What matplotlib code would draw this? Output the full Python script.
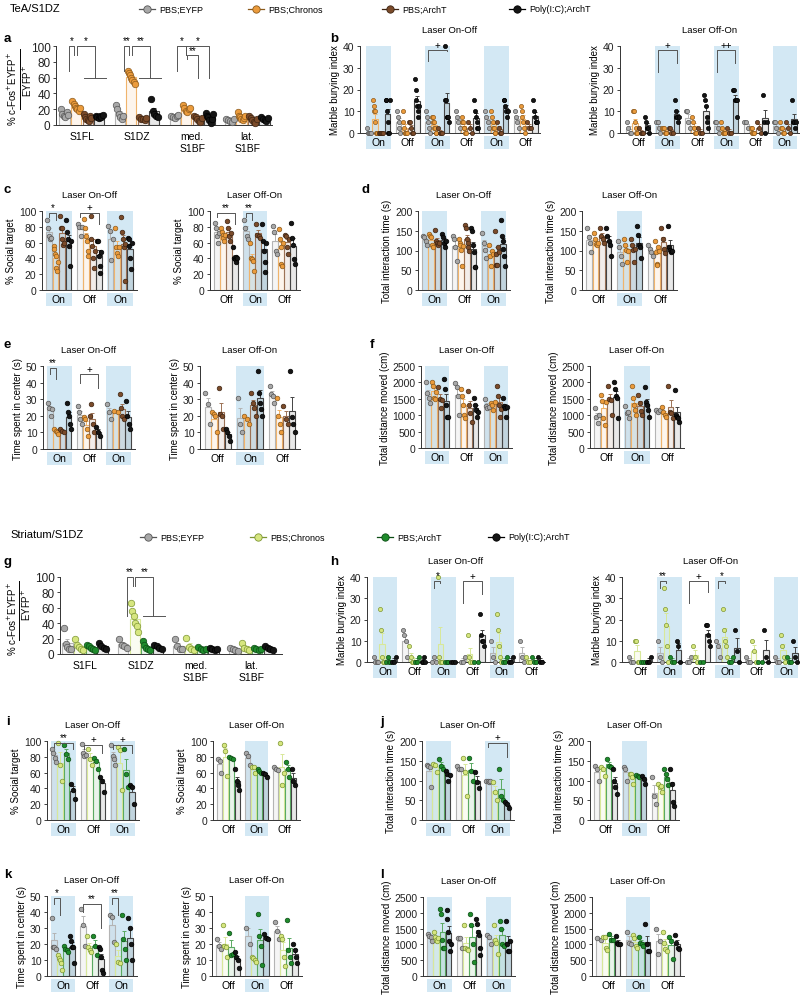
import numpy as np
import matplotlib.pyplot as plt
from matplotlib.patches import Rectangle
from matplotlib.colors import to_rgba

plt.rcParams['font.family'] = ['Liberation Sans', 'DejaVu Sans']

# ---------------- data ----------------
conds = ['PBS;EYFP', 'PBS;Chronos', 'PBS;ArchT', 'Poly(I:C);ArchT']
regions = ['S1FL', 'S1DZ', 'med.\nS1BF', 'lat.\nS1BF']
on_off3 = ['On', 'Off', 'On']
off_on3 = ['Off', 'On', 'Off']
on_off6 = ['On', 'Off', 'On', 'Off', 'On', 'Off']
off_on6 = ['Off', 'On', 'Off', 'On', 'Off', 'On']

# TeA/S1DZ
a_pts = [
    [[20, 14, 12, 10, 16, 13], [31, 27, 24, 22, 20, 18, 21], [14, 10, 8, 6, 5, 12, 9], [12, 10, 9, 11, 10, 13]],
    [[25, 20, 14, 10, 8, 12], [68, 66, 63, 60, 57, 55, 52], [10, 8, 7, 6, 9], [33, 18, 14, 12, 10]],
    [[12, 10, 9, 11, 13], [25, 22, 18, 16, 20, 21], [12, 10, 8, 5, 4, 9], [15, 12, 10, 6, 3, 8, 14]],
    [[8, 6, 5, 4, 7], [16, 12, 10, 8, 6, 9, 11], [12, 9, 6, 4, 3, 7], [10, 8, 6, 5, 9]],
]
b1_pts = [
    [[2.5, 0, 0, 0, 0], [15, 12.5, 10, 10, 5, 0, 0, 0], [0, 0, 0, 0, 0], [15, 15, 10, 5, 0, 0, 15]],
    [[10, 7.5, 5, 2.5, 0], [10, 5, 2.5, 0, 0, 0, 0], [5, 5, 2.5, 0, 0], [25, 20, 15, 12.5, 10, 7.5, 12.5]],
    [[10, 7.5, 5, 2.5, 0], [7.5, 7.5, 5, 5, 2.5, 2.5, 0, 0], [2.5, 0, 0, 0], [40, 15, 15, 7.5, 7.5, 7.5, 5]],
    [[10, 7.5, 5, 2.5], [7.5, 5, 5, 2.5, 2.5, 0, 0], [5, 2.5, 0], [15, 10, 7.5, 5, 2.5, 2.5]],
    [[10, 7.5, 5, 2.5], [10, 7.5, 5, 2.5, 2.5, 0, 0], [5, 2.5, 0, 0], [15, 15, 12.5, 10, 7.5, 10]],
    [[10, 7.5, 5, 2.5], [12.5, 10, 7.5, 5, 2.5, 0], [5, 2.5, 2.5], [15, 10, 7.5, 5, 5, 5]],
]
b2_pts = [
    [[5, 2.5, 0, 0], [10, 10, 5, 2.5, 0, 0], [2.5, 0, 0, 0], [7.5, 5, 2.5, 2.5, 0]],
    [[5, 5, 2.5, 0], [2.5, 2.5, 2.5, 0, 0, 0], [2.5, 2.5, 0, 0], [15, 10, 7.5, 7.5, 5, 7.5]],
    [[10, 10, 5, 2.5], [7.5, 5, 2.5, 0, 0], [2.5, 0, 0], [17.5, 15, 12.5, 7.5, 5, 2.5]],
    [[5, 5, 2.5, 0], [5, 2.5, 0, 0, 0, 0], [2.5, 0, 0], [20, 20, 15, 15, 15, 7.5]],
    [[5, 5, 2.5], [2.5, 2.5, 0, 0, 0], [5, 2.5, 0], [17.5, 5, 0, 5]],
    [[5, 5, 2.5, 0], [5, 2.5, 2.5, 0, 0], [5, 2.5, 0], [15, 5, 5, 2.5, 5]],
]
c1_pts = [
    [[89, 79, 68, 64, 66], [56, 52, 45, 43, 28, 24, 35], [94, 79, 78, 64, 57, 60], [88, 73, 64, 56, 30, 62]],
    [[83, 80, 68, 80], [90, 79, 68, 62, 43, 50], [94, 64, 56, 41, 28, 50], [62, 62, 43, 30, 22, 48]],
    [[81, 75, 38, 65], [79, 55, 47, 43, 55], [92, 73, 64, 54, 12, 58], [66, 64, 56, 41, 26, 60]],
]
c2_pts = [
    [[85, 79, 68, 60, 72], [79, 73, 70, 66, 62, 70], [87, 79, 68, 62, 72], [55, 41, 39, 35, 42, 41]],
    [[89, 79, 68, 64], [60, 41, 39, 37, 24], [83, 70, 68, 66], [83, 62, 50, 35, 23, 60]],
    [[81, 73, 50, 45], [77, 64, 54, 33, 31, 60], [70, 68, 54, 45, 65], [85, 66, 57, 39, 33]],
]
d1_pts = [
    [[137, 133, 125, 113], [141, 137, 133, 113, 109], [152, 125, 120, 113, 118], [141, 133, 120, 109, 125]],
    [[137, 129, 109, 74], [129, 120, 113, 101, 61, 112], [165, 157, 129, 120, 109, 98], [157, 150, 113, 95, 57, 57]],
    [[145, 120, 101, 80], [113, 86, 61, 100, 90], [150, 90, 63, 63, 110, 95], [178, 137, 125, 105, 86, 61]],
]
d2_pts = [
    [[157, 133, 120, 95], [145, 129, 116, 113, 118], [157, 137, 129, 120], [157, 137, 125, 113, 86]],
    [[125, 109, 86, 67], [129, 113, 101, 71, 100], [129, 113, 101, 71, 105], [161, 138, 113, 109, 80]],
    [[113, 105, 95, 85], [125, 95, 67, 63, 110, 100], [157, 129, 105, 93], [163, 109, 101, 95, 100]],
]
e1_pts = [
    [[28, 25, 20, 24], [12, 11, 10, 9], [12, 11, 10], [28, 22, 20, 15, 12]],
    [[26, 22, 18, 15], [19, 18, 12, 8], [20, 27, 15, 10], [13, 10, 8]],
    [[27, 22, 18], [23, 22], [33, 25, 20, 18], [29, 20, 15, 12]],
]
e2_pts = [
    [[34, 27, 15], [22, 21, 20, 10], [37, 21, 20, 12], [12, 10, 8, 5]],
    [[31, 15, 10], [20, 18, 15], [34, 28, 25, 20], [47, 34, 28, 24, 20]],
    [[38, 33, 32, 28], [31, 20, 15, 10], [26, 18, 15], [47, 19, 15, 10]],
]
f1_pts = [
    [[2000, 1690, 1530, 1375], [2000, 1900, 1530, 1500, 1700], [1850, 1500, 1220, 1450], [2100, 1810, 1320, 960, 960]],
    [[1970, 1850, 1600, 1000], [1790, 1580, 1320, 1000, 900], [1740, 1320, 1060, 800], [1530, 1320, 1170, 960, 1100]],
    [[1480, 1270, 1220, 1250], [1375, 1320, 1170, 1400], [1900, 1580, 1320, 960, 1200], [1530, 1270, 1220, 960, 1250]],
]
f2_pts = [
    [[1220, 960, 750, 1000], [1630, 1430, 900, 700, 1400], [1900, 1480, 1450, 1000], [2000, 1790, 1600, 1530, 900]],
    [[1270, 1060, 1100, 900], [1900, 1530, 1320, 1170, 1000], [1630, 1375, 1115, 1000], [1850, 1400, 1320, 1170, 960]],
    [[1150, 1100, 1150], [1250, 1100, 1000, 950], [1900, 1100, 1060, 900], [1780, 1000, 960, 900, 800]],
]

# Striatum/S1DZ
g_pts = [
    [[34, 13, 9, 7, 6], [20, 12, 9, 7, 5], [12, 10, 8, 6, 5], [14, 10, 8, 7]],
    [[20, 12, 10, 8], [66, 56, 49, 40, 36, 28], [17, 12, 8, 6, 5], [12, 11, 8, 7]],
    [[20, 10, 7, 6], [21, 9, 7, 5], [9, 7, 5, 6], [8, 7, 5, 6]],
    [[8, 6, 5, 4], [14, 8, 6, 5], [8, 7, 5, 6], [10, 8, 6, 5]],
]
h1_pts = [
    [[2.5, 0, 0, 0], [25, 15, 2.5, 0, 0], [0, 2.5, 0, 0], [0, 0, 2.5]],
    [[15, 12.5, 10, 2.5], [7.5, 2.5, 0, 0], [0, 0, 2.5], [0, 0, 2.5, 0]],
    [[0, 2.5, 0], [40, 2.5, 0, 0, 0], [0, 0, 0], [0, 0, 0]],
    [[0, 0, 2.5], [12.5, 2.5, 0, 0], [0, 0], [22.5, 12.5, 10, 10, 7.5]],
    [[10, 2.5, 0], [22.5, 15, 7.5, 2.5, 0], [0, 0, 2.5], [0, 0, 2.5]],
    [[10, 2.5, 0], [2.5, 0, 0], [2.5, 0, 0], [2.5, 0, 0]],
]
h2_pts = [
    [[2.5, 0, 0], [10, 10, 0, 0], [0, 0, 0], [0, 0, 2.5]],
    [[10, 2.5, 0], [35, 25, 17.5, 7.5, 0], [2.5, 0, 0], [10, 7.5, 0]],
    [[0, 0, 2.5], [7.5, 2.5, 0], [0, 0], [17.5, 17.5, 12.5, 10, 7.5]],
    [[10, 7.5, 2.5], [25, 15, 10, 7.5, 2.5], [0, 0, 2.5], [15, 5, 0]],
    [[2.5, 0, 0], [10, 5, 0], [0, 0], [15, 2.5, 0]],
    [[2.5, 0, 0], [12.5, 7.5, 2.5, 0], [2.5, 0, 0], [10, 2.5, 0]],
]
i1_pts = [
    [[90, 85, 79, 73], [98, 69, 50], [95, 83, 77], [46, 38, 26]],
    [[96, 85, 81, 82], [90, 77, 69], [79, 75, 65], [54, 50, 35]],
    [[95, 81, 77, 70], [92, 88, 38], [90, 58, 42], [44, 42, 20]],
]
i2_pts = [
    [[77, 75, 60], [95, 87, 56], [80, 79, 77], [65, 50, 44, 38]],
    [[85, 81, 70], [67, 67, 60], [65, 62, 60], [60, 58, 54]],
    [[67, 65, 63], [98, 44, 60], [73, 65, 55], [65, 50, 44]],
]
j1_pts = [
    [[140, 137, 133, 83], [142, 139, 122], [154, 137, 130], [125, 117, 100, 115]],
    [[137, 129, 130], [158, 121, 60], [158, 125, 100], [121, 96, 80]],
    [[100, 98, 95, 100], [96, 71, 50], [129, 60, 50], [45, 40, 30]],
]
j2_pts = [
    [[137, 129, 100], [133, 129, 112], [154, 137, 133], [129, 100, 83, 67]],
    [[133, 129, 100], [117, 117, 110, 90], [114, 112, 110], [112, 104, 92]],
    [[108, 60, 40], [92, 83, 85, 70], [129, 117, 104, 88], [129, 92, 45, 35]],
]
k1_pts = [
    [[36, 18, 18, 17], [13, 11, 10, 8, 4], [19, 17, 16, 15], [25, 22, 18, 18, 8]],
    [[42, 32, 19], [25, 18, 16, 15], [25, 19, 13], [18, 17, 12, 4, 2]],
    [[38, 37, 21], [20, 9, 8], [38, 23, 17, 10], [36, 30, 20, 10]],
]
k2_pts = [
    [[23, 19, 17], [32, 19, 18, 12], [27, 13, 14], [15, 12, 10, 5]],
    [[30, 20], [12, 11, 10, 9], [39, 25, 19, 7], [26, 24, 23]],
    [[34, 28, 23], [25, 23, 12, 6], [35, 16, 12, 8], [20, 16, 12, 8]],
]
l1_pts = [
    [[1330, 1280, 1250, 1100], [1400, 1230, 1130, 1100, 1200], [2120, 1950, 1150, 900, 880], [2100, 1800, 1400, 1100, 780, 1000]],
    [[1200, 1200, 900], [1600, 880, 850, 830], [1960, 1600, 1000, 430], [1800, 1650, 1400, 1300, 900, 650]],
    [[1300, 1220, 1000], [1600, 1150, 1050, 700], [1730, 1500, 1000, 950], [1730, 1000, 800, 800, 1100]],
]
l2_pts = [
    [[1200, 1150], [1250, 1230, 880, 830], [1330, 1150, 1150], [1280, 1050, 1000, 1000]],
    [[1380, 1050, 1000], [1300, 1200, 950, 900], [1250, 1050, 1000, 950], [1650, 1000, 800, 800]],
    [[1500, 700, 1100], [1400, 1050, 850, 800], [1250, 1100, 550], [1300, 1050, 900, 850]],
]

# ---------------- style ----------------
SHADE = '#d3e8f4'
TOP = dict(dot=['#a8a8a8', '#eb9b3c', '#7b4b2a', '#151515'],
           edge=['#555555', '#8c5a1c', '#3d2412', '#000000'],
           bar=['#b4b4b4', '#f0b46c', '#9c7256', '#444444'])
BOT = dict(dot=['#a8a8a8', '#d6e67f', '#1f8b2c', '#151515'],
           edge=['#555555', '#7d9633', '#0c4d14', '#000000'],
           bar=['#b4b4b4', '#d8e89a', '#5aaa62', '#444444'])
BW = 0.21
W, H = 800, 1004

fig = plt.figure(figsize=(8, 10.04), dpi=100)
ov = fig.add_axes([0, 0, 1, 1])
ov.set_xlim(0, W)
ov.set_ylim(H, 0)
ov.axis('off')


def bx(g, k):
    return g + (k - 1.5) * BW


def panel(rect, pts, ylim, yticks, ylabel, cols, labels=None, title=None,
          xlim=None, ms=9, tsize=7.5, brackets=(), shade=True):
    x0, y0, x1, y1 = rect
    ng = len(pts)
    if xlim is None:
        xlim = (-0.55, ng - 0.45) if ng == 3 else (-0.62, ng - 0.52)
    ax = fig.add_axes([x0 / W, 1 - y1 / H, (x1 - x0) / W, (y1 - y0) / H])
    ax.set_facecolor('none')
    ax.set_xlim(*xlim)
    ax.set_ylim(*ylim)
    ax.set_yticks(yticks)
    for s in ['top', 'right']:
        ax.spines[s].set_visible(False)
    for s in ['left', 'bottom']:
        ax.spines[s].set_linewidth(0.7)
        ax.spines[s].set_color('#333333')
    ax.tick_params(axis='y', length=2.5, width=0.6, labelsize=tsize, pad=1.5, colors='#222222')
    ax.set_ylabel(ylabel, fontsize=7, labelpad=2)
    if title:
        ax.set_title(title, fontsize=6.8, pad=10)
    # shaded "On" epochs and labels beneath the axis
    sx = (x1 - x0) / (xlim[1] - xlim[0])
    if shade:
        ax.set_xticks([])
        for g, lab in enumerate(labels):
            px = x0 + (g - xlim[0]) * sx
            hw = 0.42 * sx
            if lab == 'On':
                ax.axvspan(g - 0.42, g + 0.42, color=SHADE, lw=0, zorder=0)
                ov.add_patch(Rectangle((px - hw, y1 + 3), 2 * hw, 13, color=SHADE, lw=0))
            ov.text(px, y1 + 9.5, lab, ha='center', va='center', fontsize=7.5)
    # bars, SEM and individual animals
    for g, grp in enumerate(pts):
        for k, p in enumerate(grp):
            p = np.asarray(p, float)
            x = bx(g, k)
            m = p.mean()
            se = p.std(ddof=1) / np.sqrt(len(p))
            ax.bar(x, m, width=BW * 0.88, color=to_rgba(cols['bar'][k], 0.12),
                   edgecolor=cols['bar'][k], lw=0.8, zorder=2)
            ax.errorbar(x, m, yerr=[[0], [se]], color=cols['bar'][k], lw=0.7,
                        capsize=1.5, capthick=0.7, zorder=2)
            xs = x + np.linspace(-BW * 0.32, BW * 0.32, len(p))
            ax.scatter(xs, p, s=ms, c=cols['dot'][k], edgecolors=cols['edge'][k],
                       linewidths=0.5, zorder=3, clip_on=False)
    for br in brackets:
        g, i, j, top, ei, ej, txt = br[:7]
        xi, xj = bx(g, i), bx(g, j)
        ax.plot([xi, xi, xj, xj], [ei, top, top, ej], color='#555555', lw=0.7,
                clip_on=False, zorder=4)
        if txt:
            ax.annotate(txt, ((xi + xj) / 2, top), xytext=(0, 0.5), textcoords='offset points',
                        ha='center', va='bottom', fontsize=7, annotation_clip=False)
        if len(br) > 7:
            t0, t1, ty = br[7]
            ax.plot([bx(g, t0), bx(g, t1)], [ty, ty], color='#555555', lw=0.7,
                    clip_on=False, zorder=4)
    return ax


def legend_row(y, xs, cols, names):
    for x, k in zip(xs, range(4)):
        ov.plot([x - 8, x + 8], [y, y], color=cols['edge'][k], lw=0.9)
        ov.scatter([x], [y], s=28, c=cols['dot'][k], edgecolors=cols['edge'][k], linewidths=0.6, zorder=3)
        ov.text(x + 12, y, names[k], ha='left', va='center', fontsize=6.5)


def letter(x, y, s):
    ov.text(x, y, s, fontsize=9.5, fontweight='bold', ha='left', va='center')


def frac_label(xn, yn, xl, yl0, yl1, xd, yd):
    ov.text(xn, yn, '% c-Fos$^{+}$EYFP$^{+}$', rotation=90, ha='center', va='center', fontsize=7)
    ov.plot([xl, xl], [yl0, yl1], color='k', lw=0.7)
    ov.text(xd, yd, 'EYFP$^{+}$', rotation=90, ha='center', va='center', fontsize=7)


# ---------------- TeA / S1DZ ----------------
ov.text(10, 9, 'TeA/S1DZ', fontsize=8, ha='left', va='center')
legend_row(10, [147, 256, 390, 517], TOP, conds)

ax = panel((56, 47, 272, 126), a_pts, (0, 100), [0, 20, 40, 60, 80, 100], '', TOP,
           xlim=(-0.47, 3.45), ms=22, tsize=8.5, shade=False,
           brackets=[(0, 0.35, 0.85, 100, 68, 88, '*'), (0, 1.05, 2.6, 100, 88, 60, '*', (1.7, 3.6, 60)),
                     (1, 0.35, 0.85, 100, 68, 88, '**'), (1, 1.05, 2.6, 100, 88, 60, '**', (1.7, 3.6, 60)),
                     (2, 0.2, 1.0, 100, 68, 88, '*'), (2, 1.0, 3.0, 100, 88, 60, '*'),
                     (2, 1.1, 2.0, 88, 84, 60, '**')])
ax.set_xticks(range(4))
ax.set_xticklabels(regions, fontsize=7.5, linespacing=1.3)
ax.tick_params(axis='x', length=0, pad=4)
frac_label(12, 89, 19.5, 50, 110, 27, 81)
letter(4, 39, 'a')

letter(330, 39, 'b')
panel((360, 47, 540, 134), b1_pts, (0, 40), [0, 10, 20, 30, 40], 'Marble burying index', TOP,
      on_off6, 'Laser On-Off', brackets=[(2, 0, 3, 38, 33, 37.5, '+')])
panel((620, 47, 799, 134), b2_pts, (0, 40), [0, 10, 20, 30, 40], 'Marble burying index', TOP,
      off_on6, 'Laser Off-On', brackets=[(1, 0, 3, 38, 28, 32, '+'), (3, 0, 3, 38, 28, 32, '++')])

letter(4, 190, 'c')
panel((42, 212, 137, 291), c1_pts, (0, 100), [0, 20, 40, 60, 80, 100], '% Social target', TOP,
      on_off3, 'Laser On-Off', ms=11,
      brackets=[(0, 0, 1, 98, 93, 88, '*'), (1, 0, 3, 98, 92, 84, '+')])
panel((210, 212, 300, 291), c2_pts, (0, 100), [0, 20, 40, 60, 80, 100], '% Social target', TOP,
      off_on3, 'Laser Off-On', ms=11,
      brackets=[(0, 0, 3, 98, 92, 84, '**'), (1, 0, 1, 98, 93, 88, '**')])

letter(362, 190, 'd')
panel((418, 212, 510, 291), d1_pts, (0, 200), [0, 50, 100, 150, 200], 'Total interaction time (s)', TOP,
      on_off3, 'Laser On-Off', ms=11)
panel((582, 212, 677, 291), d2_pts, (0, 200), [0, 50, 100, 150, 200], 'Total interaction time (s)', TOP,
      off_on3, 'Laser Off-On', ms=11)

letter(4, 345, 'e')
panel((43, 367, 135, 450), e1_pts, (0, 50), [0, 10, 20, 30, 40, 50], 'Time spent in center (s)', TOP,
      on_off3, 'Laser On-Off', ms=11,
      brackets=[(0, 0, 1, 49, 45, 42, '**'), (1, 0, 3, 45, 40, 37, '+')])
panel((200, 367, 300, 450), e2_pts, (0, 50), [0, 10, 20, 30, 40, 50], 'Time spent in center (s)', TOP,
      off_on3, 'Laser Off-On', ms=11)

letter(370, 345, 'f')
panel((421, 367, 512, 449), f1_pts, (0, 2500), [0, 500, 1000, 1500, 2000, 2500], 'Total distance moved (cm)', TOP,
      on_off3, 'Laser On-Off', ms=11)
panel((590, 367, 684, 449), f2_pts, (0, 2500), [0, 500, 1000, 1500, 2000, 2500], 'Total distance moved (cm)', TOP,
      off_on3, 'Laser Off-On', ms=11)

# ---------------- Striatum / S1DZ ----------------
ov.text(10, 535, 'Striatum/S1DZ', fontsize=8, ha='left', va='center')
legend_row(538, [148, 258, 385, 496], BOT, conds)

ax = panel((60, 578, 282, 655), g_pts, (0, 100), [0, 20, 40, 60, 80, 100], '', BOT,
           xlim=(-0.45, 3.55), ms=22, tsize=8.5, shade=False,
           brackets=[(1, 0.35, 0.85, 100, 50, 88, '**'), (1, 1.05, 2.6, 100, 88, 50, '**', (1.7, 3.6, 50))])
ax.set_xticks(range(4))
ax.set_xticklabels(regions, fontsize=7.5, linespacing=1.3)
ax.tick_params(axis='x', length=0, pad=4)
frac_label(12, 619, 19, 582, 641, 26, 605)
letter(4, 562, 'g')

letter(330, 562, 'h')
panel((367, 578, 545, 663), h1_pts, (0, 40), [0, 10, 20, 30, 40], 'Marble burying index', BOT,
      on_off6, 'Laser On-Off',
      brackets=[(2, 0, 1, 38, 35, 37, '*'), (3, 0, 3, 38, 28, 32, '+')])
panel((622, 578, 800, 663), h2_pts, (0, 40), [0, 10, 20, 30, 40], 'Marble burying index', BOT,
      off_on6, 'Laser Off-On',
      brackets=[(1, 0, 1, 38, 35, 37, '**'), (2, 0, 3, 38, 28, 33, '+'), (3, 0, 1, 38, 35, 37, '*')])

letter(6, 722, 'i')
panel((47, 742, 139, 821), i1_pts, (0, 100), [0, 20, 40, 60, 80, 100], '% Social target', BOT,
      on_off3, 'Laser On-Off', ms=11,
      brackets=[(0, 0, 3, 98, 93, 90, '**'), (1, 0, 3, 95, 90, 85, '+'), (2, 0, 3, 95, 90, 85, '+')])
panel((213, 742, 300, 821), i2_pts, (0, 100), [0, 20, 40, 60, 80, 100], '% Social target', BOT,
      off_on3, 'Laser Off-On', ms=11)

letter(380, 722, 'j')
panel((422, 742, 514, 821), j1_pts, (0, 200), [0, 50, 100, 150, 200], 'Total interaction time (s)', BOT,
      on_off3, 'Laser On-Off', ms=11, brackets=[(2, 0, 3, 195, 185, 160, '+')])
panel((590, 742, 679, 821), j2_pts, (0, 200), [0, 50, 100, 150, 200], 'Total interaction time (s)', BOT,
      off_on3, 'Laser Off-On', ms=11)

letter(4, 875, 'k')
panel((47, 897, 137, 977), k1_pts, (0, 50), [0, 10, 20, 30, 40, 50], 'Time spent in center (s)', BOT,
      on_off3, 'Laser On-Off', ms=11,
      brackets=[(0, 0, 1, 49, 45, 38, '*'), (1, 0, 3, 45, 40, 30, '**'), (2, 0, 1, 49, 45, 38, '**')])
panel((212, 897, 302, 977), k2_pts, (0, 50), [0, 10, 20, 30, 40, 50], 'Time spent in center (s)', BOT,
      off_on3, 'Laser Off-On', ms=11)

letter(380, 875, 'l')
panel((423, 898, 515, 977), l1_pts, (0, 2500), [0, 500, 1000, 1500, 2000, 2500], 'Total distance moved (cm)', BOT,
      on_off3, 'Laser On-Off', ms=11)
panel((592, 898, 684, 977), l2_pts, (0, 2500), [0, 500, 1000, 1500, 2000, 2500], 'Total distance moved (cm)', BOT,
      off_on3, 'Laser Off-On', ms=11)

fig.savefig('out.png', dpi=100)
